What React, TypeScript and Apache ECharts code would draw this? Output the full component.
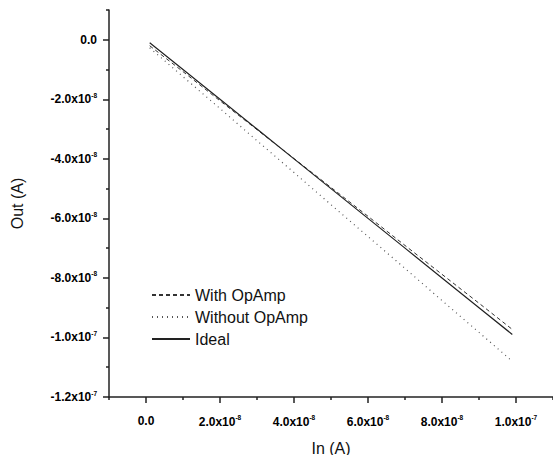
import React, { useEffect, useRef } from "react";
import * as echarts from "echarts";

// ---- data ----
const xIn = [1e-9, 1e-8, 2e-8, 3e-8, 4e-8, 5e-8, 6e-8, 7e-8, 8e-8, 9e-8, 9.9e-8];
const withOpAmp = [-0.2e-8, -1.07e-8, -2.05e-8, -3.02e-8, -3.99e-8, -4.96e-8, -5.93e-8, -6.91e-8, -7.88e-8, -8.85e-8, -9.73e-8];
const withoutOpAmp = [-0.27e-8, -1.24e-8, -2.31e-8, -3.39e-8, -4.46e-8, -5.54e-8, -6.61e-8, -7.68e-8, -8.76e-8, -9.83e-8, -10.8e-8];
const ideal = [-1e-9, -1e-8, -2e-8, -3e-8, -4e-8, -5e-8, -6e-8, -7e-8, -8e-8, -9e-8, -9.9e-8];

const seriesNames = ["With OpAmp", "Without OpAmp", "Ideal"];

const xMajorTicks = [0, 2e-8, 4e-8, 6e-8, 8e-8, 1e-7];
const xMinorTicks = [-1e-8, 1e-8, 3e-8, 5e-8, 7e-8, 9e-8, 1.1e-7];
const xTickMantissa = ["0.0", "2.0", "4.0", "6.0", "8.0", "1.0"];
const xTickExponent = ["", "-8", "-8", "-8", "-8", "-7"];

const yMajorTicks = [0, -2e-8, -4e-8, -6e-8, -8e-8, -1e-7, -1.2e-7];
const yMinorTicks = [1e-8, -1e-8, -3e-8, -5e-8, -7e-8, -9e-8, -1.1e-7];
const yTickMantissa = ["0.0", "-2.0", "-4.0", "-6.0", "-8.0", "-1.0", "-1.2"];
const yTickExponent = ["", "-8", "-8", "-8", "-8", "-7", "-7"];

const X_MIN = -1e-8, X_MAX = 1.1e-7;
const Y_MIN = -1.2e-7, Y_MAX = 1e-8;

function makeFormatter(ticks: number[], mant: string[], exps: string[]) {
  return (v: number) => {
    for (let i = 0; i < ticks.length; i++) {
      if (Math.abs(v - ticks[i]) < 1e-12) {
        return exps[i] ? `{m|${mant[i]}x10}{s|${exps[i]}}` : `{m|${mant[i]}}`;
      }
    }
    return "";
  };
}

const FONT = "'Liberation Sans', Arial, sans-serif";
const rich = {
  m: { fontSize: 12, fontWeight: "bold", fontFamily: FONT, color: "#000", lineHeight: 14 },
  s: { fontSize: 6.5, fontWeight: "bold", fontFamily: FONT, color: "#000", verticalAlign: "top", padding: [0, 0, 8, 0] },
};

export default function App() {
  const ref = useRef<HTMLDivElement>(null);
  useEffect(() => {
    if (!ref.current) return;
    const chart = echarts.init(ref.current, undefined, { renderer: "svg" });
    const pairs = (ys: number[]) => xIn.map((x, i) => [x, ys[i]]);
    const axisLineStyle = { color: "#222", width: 1.5 };
    chart.setOption({
      animation: false,
      backgroundColor: "#fff",
      grid: { left: 109, right: 0, top: 10, bottom: 58, containLabel: false, outerBoundsMode: "none" },
      legend: {
        orient: "vertical",
        left: 146,
        top: 282,
        itemWidth: 38,
        itemHeight: 14,
        itemGap: 6,
        data: seriesNames,
        itemStyle: { opacity: 0 },
        textStyle: { fontSize: 16, fontFamily: FONT, color: "#111" },
      },
      xAxis: [
        {
          type: "value",
          position: "bottom",
          min: X_MIN,
          max: X_MAX,
          interval: 1e-8,
          name: "In (A)",
          nameLocation: "middle",
          nameGap: 43,
          nameTextStyle: { fontSize: 16, fontFamily: FONT, color: "#111" },
          axisLine: { onZero: false, lineStyle: axisLineStyle },
          axisTick: { show: true, inside: false, length: 6, customValues: xMajorTicks, lineStyle: axisLineStyle },
          axisLabel: {
            margin: 17,
            customValues: xMajorTicks,
            formatter: makeFormatter(xMajorTicks, xTickMantissa, xTickExponent),
            rich,
          },
          splitLine: { show: false },
        },
        {
          type: "value",
          position: "bottom",
          min: X_MIN,
          max: X_MAX,
          interval: 1e-8,
          axisLine: { show: false, onZero: false },
          axisTick: { show: true, inside: false, length: 3, customValues: xMinorTicks, lineStyle: axisLineStyle },
          axisLabel: { show: false },
          splitLine: { show: false },
        },
      ],
      yAxis: [
        {
          type: "value",
          position: "left",
          min: Y_MIN,
          max: Y_MAX,
          interval: 1e-8,
          name: "Out (A)",
          nameLocation: "middle",
          nameRotate: 90,
          nameGap: 84,
          nameTextStyle: { fontSize: 16, fontFamily: FONT, color: "#111" },
          axisLine: { show: true, onZero: false, lineStyle: axisLineStyle },
          axisTick: { show: true, inside: false, length: 6, customValues: yMajorTicks, lineStyle: axisLineStyle },
          axisLabel: {
            margin: 12,
            customValues: yMajorTicks,
            formatter: makeFormatter(yMajorTicks, yTickMantissa, yTickExponent),
            rich,
          },
          splitLine: { show: false },
        },
        {
          type: "value",
          position: "left",
          min: Y_MIN,
          max: Y_MAX,
          interval: 1e-8,
          axisLine: { show: false, onZero: false },
          axisTick: { show: true, inside: false, length: 3, customValues: yMinorTicks, lineStyle: axisLineStyle },
          axisLabel: { show: false },
          splitLine: { show: false },
        },
      ],
      series: [
        {
          name: seriesNames[0],
          type: "line",
          symbol: "none",
          data: pairs(withOpAmp),
          lineStyle: { color: "#333", width: 1, type: [4, 3] },
          itemStyle: { color: "#333" },
        },
        {
          name: seriesNames[1],
          type: "line",
          symbol: "none",
          data: pairs(withoutOpAmp),
          lineStyle: { color: "#555", width: 1.2, type: [1, 4] },
          itemStyle: { color: "#555" },
        },
        {
          name: seriesNames[2],
          type: "line",
          symbol: "none",
          data: pairs(ideal),
          lineStyle: { color: "#222", width: 1.2, type: "solid" },
          itemStyle: { color: "#222" },
        },
      ],
    });
    return () => chart.dispose();
  }, []);
  return <div ref={ref} style={{ position: "absolute", left: 0, top: 0, width: 553, height: 455 }} />;
}
